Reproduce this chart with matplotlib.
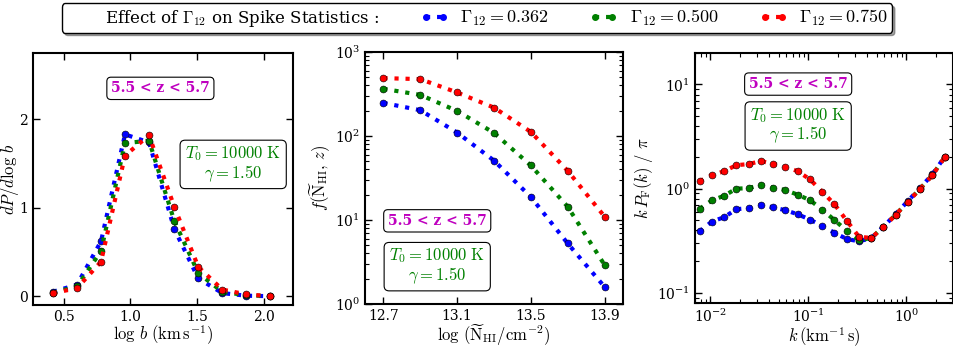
import matplotlib
matplotlib.use('Agg')
import matplotlib.pyplot as plt
from matplotlib.lines import Line2D
import numpy as np

plt.rcParams['font.family'] = 'DejaVu Serif'
plt.rcParams['mathtext.fontset'] = 'cm'
plt.rcParams['xtick.direction'] = 'in'
plt.rcParams['ytick.direction'] = 'in'
plt.rcParams['xtick.top'] = True
plt.rcParams['ytick.right'] = True
plt.rcParams['axes.linewidth'] = 1.5

# Gamma_12 runs
GAMMAS = ['0.362', '0.500', '0.750']
COLORS = ['b', 'g', 'r']

# b-parameter distribution
logb = [0.42, 0.60, 0.78, 0.96, 1.14, 1.33, 1.51, 1.69, 1.87, 2.05]
dpdb_362 = [0.05, 0.13, 0.62, 1.83, 1.74, 0.76, 0.20, 0.035, 0.005, 0.0]
dpdb_500 = [0.04, 0.11, 0.51, 1.73, 1.76, 0.85, 0.26, 0.05, 0.01, 0.0]
dpdb_750 = [0.035, 0.09, 0.39, 1.59, 1.82, 1.01, 0.33, 0.075, 0.02, 0.0]

# column density distribution
logN = [12.7, 12.9, 13.1, 13.3, 13.5, 13.7, 13.9]
fN_362 = [248, 203, 110, 51, 18.8, 5.26, 1.6]
fN_500 = [365, 309, 199, 109, 44.6, 14.4, 2.92]
fN_750 = [489, 476, 330, 218, 112, 38.5, 11.0]

# flux power spectrum
kk = [0.0078, 0.0104, 0.0139, 0.0185, 0.0247, 0.0329, 0.0439, 0.0585, 0.078,
      0.104, 0.139, 0.185, 0.247, 0.329, 0.439, 0.585, 0.78, 1.04, 1.39, 1.85, 2.47]
pk_362 = [0.389, 0.483, 0.532, 0.635, 0.65, 0.70, 0.66, 0.621, 0.568, 0.505, 0.439,
          0.378, 0.329, 0.312, 0.335, 0.43, 0.57, 0.76, 1.02, 1.37, 2.02]
pk_500 = [0.641, 0.77, 0.855, 1.0, 1.01, 1.09, 1.02, 0.97, 0.875, 0.776, 0.63,
          0.50, 0.395, 0.321, 0.335, 0.43, 0.56, 0.75, 1.0, 1.35, 2.0]
pk_750 = [1.18, 1.35, 1.47, 1.68, 1.72, 1.84, 1.73, 1.62, 1.47, 1.23, 0.935,
          0.71, 0.494, 0.346, 0.336, 0.426, 0.56, 0.743, 1.0, 1.34, 2.0]

ZTXT = '5.5 < z < 5.7'
TTXT = '$T_0 = 10000\\ {\\rm K}$\n$\\gamma = 1.50$'


def draw(ax, x, ys):
	for y, c in zip(ys, COLORS):
		ax.plot(x, y, ls=':', lw=3, color=c, marker='o', ms=5,
				mec='k', mew=0.4)


def boxes(ax, zpos, tpos):
	ax.text(zpos[0], zpos[1], ZTXT, transform=ax.transAxes, ha='center',
			va='center', color='m', fontweight='bold', fontsize=10,
			bbox=dict(boxstyle='round,pad=0.3', fc='w', ec='k', lw=0.8))
	ax.text(tpos[0], tpos[1], TTXT, transform=ax.transAxes, ha='center',
			va='center', color='g', fontsize=12, linespacing=1.0,
			bbox=dict(boxstyle='round,pad=0.3', fc='w', ec='k', lw=0.8))


fig = plt.figure(figsize=(9.54, 3.47), dpi=100)

ax1 = fig.add_axes([0.0346, 0.121, 0.2725, 0.726])
draw(ax1, logb, [dpdb_362, dpdb_500, dpdb_750])
ax1.set_xlim(0.27, 2.22)
ax1.set_ylim(-0.1, 2.75)
ax1.set_xticks([0.5, 1.0, 1.5, 2.0])
ax1.set_yticks([0, 1, 2])
ax1.set_xlabel(r'$\log\,b\ ({\rm km\,s}^{-1})$', fontsize=12, labelpad=0)
ax1.set_ylabel(r'$dP/d\log\,b$', fontsize=12)
ax1.yaxis.set_label_coords(-0.047, 0.5)
boxes(ax1, (0.49, 0.86), (0.77, 0.56))

ax2 = fig.add_axes([0.3826, 0.124, 0.2704, 0.726])
draw(ax2, logN, [fN_362, fN_500, fN_750])
ax2.set_yscale('log')
ax2.set_xlim(12.6, 14.0)
ax2.set_ylim(1, 1000)
ax2.set_xticks([12.7, 13.1, 13.5, 13.9])
ax2.set_xlabel(r'$\log\,(\widetilde{\rm N}_{\rm HI}/{\rm cm}^{-2})$',
			   fontsize=12, labelpad=0)
ax2.set_ylabel(r'$f(\widetilde{\rm N}_{\rm HI},\,z)$', fontsize=12, labelpad=2)
boxes(ax2, (0.28, 0.33), (0.28, 0.15))

ax3 = fig.add_axes([0.7285, 0.127, 0.2704, 0.72])
draw(ax3, kk, [pk_362, pk_500, pk_750])
ax3.set_xscale('log')
ax3.set_yscale('log')
ax3.set_xlim(0.007, 3)
ax3.set_ylim(0.08, 20)
ax3.set_xlabel(r'$k\,({\rm km}^{-1}\,{\rm s})$', fontsize=12, labelpad=0)
ax3.set_ylabel(r'$k\,P_{\rm F}(k)\ /\ \pi$', fontsize=12, labelpad=2)
boxes(ax3, (0.40, 0.876), (0.40, 0.71))

for ax in [ax1, ax2, ax3]:
	ax.tick_params(which='major', length=5, width=1, labelsize=10)
	ax.tick_params(which='minor', length=3, width=0.8)

handles = [Line2D([], [], ls='none')]
labels = [r'Effect of $\Gamma_{12}$ on Spike Statistics :']
for g, c in zip(GAMMAS, COLORS):
	handles.append(Line2D([], [], ls=':', lw=3, color=c, marker='o', ms=4))
	labels.append(r'$\Gamma_{12} = %s$' % g)
leg = fig.legend(handles, labels, loc='upper center', bbox_to_anchor=(0.5, 0.995),
				 ncol=4, fontsize=12, numpoints=2, handlelength=1.6,
				 handletextpad=0.75, columnspacing=2.5, fancybox=True,
				 shadow=True, framealpha=1, edgecolor='k', borderpad=0.25,
				 borderaxespad=0.1)
for t in leg.get_texts()[1:]:
	t.set_fontsize(13)

fig.savefig('out.png', dpi=100)
